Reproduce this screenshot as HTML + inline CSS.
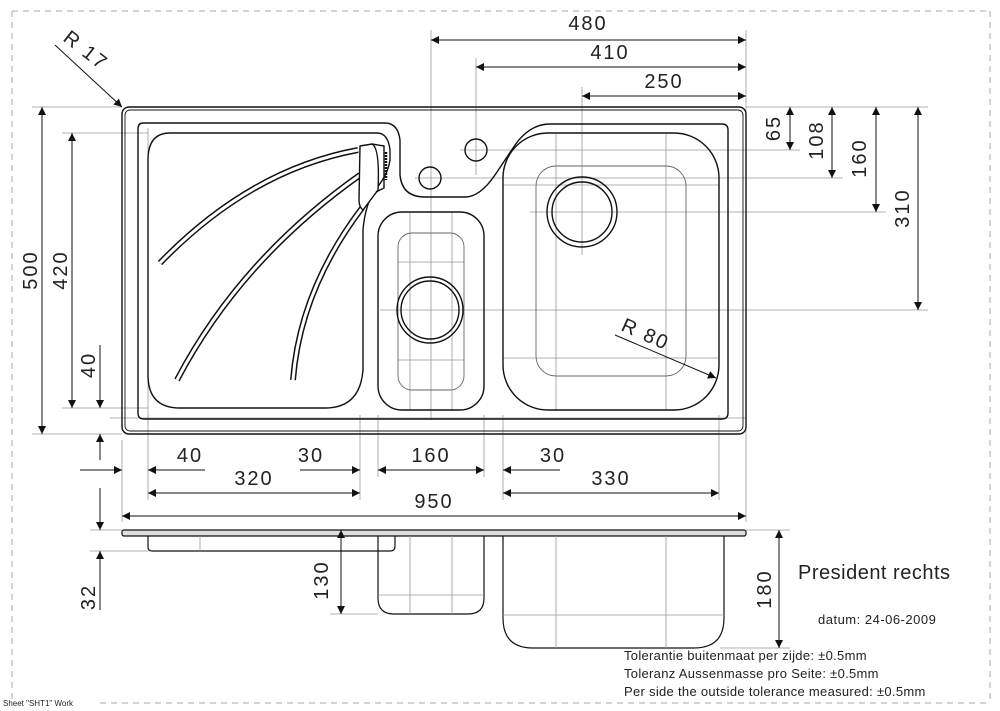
<!DOCTYPE html>
<html><head><meta charset="utf-8"><style>
html,body{margin:0;padding:0;background:#fff;}
svg{display:block;}
text{font-family:"Liberation Sans",sans-serif;fill:#222;}
</style></head><body>
<svg width="1000" height="711" viewBox="0 0 1000 711" xmlns="http://www.w3.org/2000/svg">
<defs>
<marker id="a" viewBox="0 0 10 10" refX="10" refY="5" markerWidth="14" markerHeight="8" markerUnits="userSpaceOnUse" orient="auto-start-reverse"><path d="M0,0L10,5L0,10z" fill="#111"/></marker>
</defs>
<g stroke="#aaa" stroke-dasharray="6,5" fill="none" stroke-width="1">
<line x1="12" y1="11" x2="990" y2="11"/><line x1="12" y1="11" x2="12" y2="700"/>
<line x1="100" y1="703" x2="990" y2="703"/><line x1="990" y1="11" x2="990" y2="703"/>
</g>
<g stroke="#999" stroke-width="0.8" fill="none">
<line x1="431" y1="30" x2="431" y2="420"/>
<line x1="476" y1="58" x2="476" y2="175"/>
<line x1="582" y1="87" x2="582" y2="255"/>
<line x1="746" y1="30" x2="746" y2="522"/>
<line x1="122" y1="440" x2="122" y2="522"/>
<line x1="148" y1="415" x2="148" y2="500"/>
<line x1="360" y1="415" x2="360" y2="500"/>
<line x1="378" y1="415" x2="378" y2="477"/>
<line x1="484" y1="415" x2="484" y2="477"/>
<line x1="503" y1="415" x2="503" y2="500"/>
<line x1="719" y1="415" x2="719" y2="500"/>
<line x1="32" y1="107" x2="122" y2="107"/><line x1="746" y1="107" x2="928" y2="107"/>
<line x1="62" y1="133" x2="148" y2="133"/>
<line x1="62" y1="408" x2="148" y2="408"/>
<line x1="32" y1="434" x2="122" y2="434"/>
<line x1="460" y1="150" x2="800" y2="150"/>
<line x1="415" y1="178" x2="843" y2="178"/>
<line x1="530" y1="212" x2="886" y2="212"/>
<line x1="380" y1="310" x2="928" y2="310"/>
<line x1="90" y1="530" x2="122" y2="530"/><line x1="746" y1="530" x2="790" y2="530"/>
<line x1="90" y1="551" x2="148" y2="551"/>
<line x1="330" y1="614" x2="378" y2="614"/>
<line x1="720" y1="648" x2="790" y2="648"/>
<line x1="398" y1="262" x2="464" y2="262"/><line x1="398" y1="360" x2="464" y2="360"/>
<line x1="410" y1="212" x2="410" y2="410"/><line x1="452" y1="212" x2="452" y2="410"/>
<line x1="556" y1="133" x2="556" y2="410"/><line x1="666" y1="133" x2="666" y2="410"/>
<line x1="503" y1="185" x2="719" y2="185"/><line x1="503" y1="358" x2="719" y2="358"/>
<line x1="148" y1="128" x2="148" y2="425"/>
<line x1="110" y1="418" x2="746" y2="418"/>
</g>
<g stroke="#111" fill="none" stroke-width="1.4">
<rect x="122" y="107" width="624" height="327" rx="7"/>
<rect x="125" y="110" width="618" height="321" rx="5" stroke-width="0.9"/>
<path d="M143,123 H385 Q398,123 400,140 V175 Q402,197 425,197 H465 Q480,197 495,175 L515,145 Q530,124 550,124 H722 Q728,124 728,130 V413 Q728,419 722,419 H144 Q138,419 138,413 V129 Q138,123 143,123 Z"/>
<path d="M170,133 H377 Q388,133 390,150 V160 Q388,175 375,190 Q365,205 363,230 V370 Q360,408 325,408 H180 Q148,408 148,375 V160 Q148,133 170,133 Z"/>
<rect x="378" y="212" width="106" height="198" rx="24"/>
<rect x="398" y="233" width="66" height="157" rx="14" stroke="#666" stroke-width="0.9"/>
<circle cx="430" cy="310" r="33"/><circle cx="430" cy="310" r="29"/>
<rect x="503" y="133" width="216" height="277" rx="45"/>
<rect x="536" y="166" width="150" height="210" rx="20" stroke="#666" stroke-width="0.9"/>
<circle cx="582" cy="212" r="35"/><circle cx="582" cy="212" r="30"/>
<circle cx="430" cy="178" r="11"/><circle cx="476" cy="150" r="11"/>
<path d="M160,263 Q250,170 358,150" stroke-width="6"/>
<path d="M160,263 Q250,170 358,150" stroke="#fff" stroke-width="3"/>
<path d="M177,380 Q240,260 360,175" stroke-width="6"/>
<path d="M177,380 Q240,260 360,175" stroke="#fff" stroke-width="3"/>
<path d="M293,380 Q300,290 362,208" stroke-width="6"/>
<path d="M293,380 Q300,290 362,208" stroke="#fff" stroke-width="3"/>
<path d="M360,146 L372,144 Q380,148 378,190 L363,210 Q359,207 359,200 Z" fill="#fff"/>
<path d="M372,144 L384,146 V188 L376,192" />
<line x1="386" y1="152" x2="386" y2="180" stroke-width="2.5" stroke-dasharray="2,1"/>
</g>
<g stroke="#111" fill="none" stroke-width="1.2">
<rect x="122" y="530" width="624" height="6" rx="2" fill="#ddd"/>
<path d="M148,536 V547 Q148,551 152,551 H390 Q395,551 395,546 V536"/>
<path d="M378,536 V598 Q378,614 394,614 H468 Q484,614 484,598 V536"/>
<path d="M503,536 V618 Q503,648 533,648 H694 Q724,648 724,618 V536"/>
</g>
<g stroke="#999" stroke-width="0.8">
<line x1="200" y1="536" x2="200" y2="551"/><line x1="410" y1="536" x2="410" y2="614"/><line x1="452" y1="536" x2="452" y2="614"/>
<line x1="556" y1="536" x2="556" y2="648"/><line x1="666" y1="536" x2="666" y2="648"/>
<line x1="378" y1="595" x2="484" y2="595"/><line x1="503" y1="615" x2="724" y2="615"/>
</g>
<g stroke="#111" stroke-width="1" fill="none" marker-start="url(#a)" marker-end="url(#a)">
<line x1="431" y1="40" x2="746" y2="40"/>
<line x1="476" y1="67" x2="746" y2="67"/>
<line x1="582" y1="96" x2="746" y2="96"/>
<line x1="790" y1="107" x2="790" y2="150"/>
<line x1="832" y1="107" x2="832" y2="178"/>
<line x1="876" y1="107" x2="876" y2="212"/>
<line x1="918" y1="107" x2="918" y2="310"/>
<line x1="42" y1="107" x2="42" y2="434"/>
<line x1="72" y1="133" x2="72" y2="408"/>
<line x1="378" y1="470" x2="484" y2="470"/>
<line x1="148" y1="493" x2="360" y2="493"/>
<line x1="503" y1="493" x2="719" y2="493"/>
<line x1="122" y1="516" x2="746" y2="516"/>
<line x1="341" y1="530" x2="341" y2="614"/>
<line x1="779" y1="530" x2="779" y2="648"/>
</g>
<g stroke="#111" stroke-width="1" fill="none" marker-end="url(#a)">
<line x1="205" y1="470" x2="148" y2="470"/>
<line x1="300" y1="470" x2="360" y2="470"/>
<line x1="560" y1="470" x2="503" y2="470"/>
<line x1="80" y1="470" x2="122" y2="470"/>
<line x1="100" y1="345" x2="100" y2="408"/>
<line x1="100" y1="460" x2="100" y2="434"/>
<line x1="100" y1="488" x2="100" y2="530"/>
<line x1="100" y1="610" x2="100" y2="551"/>
<line x1="55" y1="45" x2="122" y2="107"/>
<line x1="615" y1="335" x2="716" y2="378"/>
</g>
<g font-size="20" letter-spacing="2">
<text x="588" y="30" text-anchor="middle">480</text>
<text x="610" y="59" text-anchor="middle">410</text>
<text x="664" y="88" text-anchor="middle">250</text>
<text x="190" y="462" text-anchor="middle">40</text>
<text x="311" y="462" text-anchor="middle">30</text>
<text x="431" y="462" text-anchor="middle">160</text>
<text x="553" y="462" text-anchor="middle">30</text>
<text x="254" y="485" text-anchor="middle">320</text>
<text x="611" y="485" text-anchor="middle">330</text>
<text x="434" y="508" text-anchor="middle">950</text>
<text transform="translate(780,128) rotate(-90)" text-anchor="middle">65</text>
<text transform="translate(823,140) rotate(-90)" text-anchor="middle">108</text>
<text transform="translate(866,158) rotate(-90)" text-anchor="middle">160</text>
<text transform="translate(909,208) rotate(-90)" text-anchor="middle">310</text>
<text transform="translate(37,270) rotate(-90)" text-anchor="middle">500</text>
<text transform="translate(67,270) rotate(-90)" text-anchor="middle">420</text>
<text transform="translate(95,365) rotate(-90)" text-anchor="middle">40</text>
<text transform="translate(95,597) rotate(-90)" text-anchor="middle">32</text>
<text transform="translate(328,580) rotate(-90)" text-anchor="middle">130</text>
<text transform="translate(771,589) rotate(-90)" text-anchor="middle">180</text>
<text transform="translate(62,40) rotate(38)">R  17</text>
<text transform="translate(620,330) rotate(24)">R  80</text>
</g>
<text x="798" y="579" font-size="20" letter-spacing="0.5">President rechts</text>
<text x="818" y="624" font-size="13" letter-spacing="0.5">datum: 24-06-2009</text>
<g font-size="13" letter-spacing="0.3">
<text x="624" y="660">Tolerantie buitenmaat per zijde: ±0.5mm</text>
<text x="624" y="678">Toleranz Aussenmasse pro Seite: ±0.5mm</text>
<text x="624" y="696">Per side the outside tolerance measured: ±0.5mm</text>
</g>
<text x="3" y="706" font-size="8">Sheet "SHT1" Work</text>
</svg>
</body></html>
